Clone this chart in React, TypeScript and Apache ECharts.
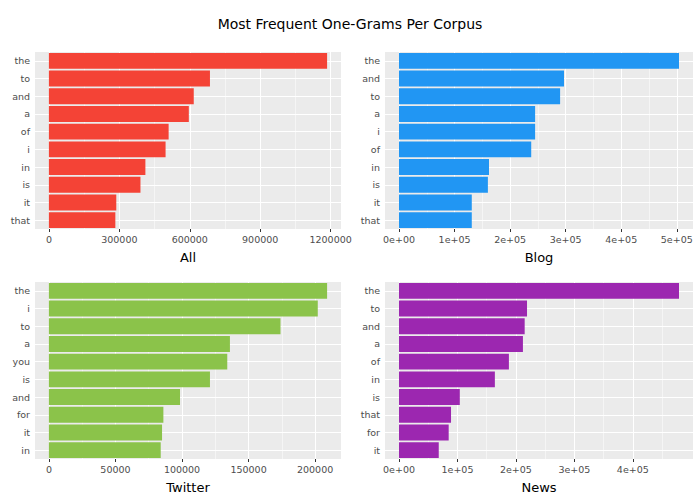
import React, { useEffect, useRef } from "react";
import * as echarts from "echarts";

const allWords = ["the", "to", "and", "a", "of", "i", "in", "is", "it", "that"];
const allValues = [1185000, 686000, 617000, 596000, 510000, 497000, 411000, 390000, 287000, 283000];
const allTicks = [0, 300000, 600000, 900000, 1200000];

const blogWords = ["the", "and", "to", "a", "i", "of", "in", "is", "it", "that"];
const blogValues = [504000, 297000, 290000, 245000, 245000, 238000, 162000, 160000, 131000, 131000];
const blogTicks = [0, 100000, 200000, 300000, 400000, 500000];

const twitterWords = ["the", "i", "to", "a", "you", "is", "and", "for", "it", "in"];
const twitterValues = [209000, 202000, 174000, 136000, 134000, 121000, 98500, 86000, 85000, 84000];
const twitterTicks = [0, 50000, 100000, 150000, 200000];

const newsWords = ["the", "to", "and", "a", "of", "in", "is", "that", "for", "it"];
const newsValues = [479000, 219000, 215000, 212000, 188000, 164000, 104000, 89000, 85000, 68000];
const newsTicks = [0, 100000, 200000, 300000, 400000];

const panels = [
  { name: "All", words: allWords, values: allValues, ticks: allTicks, color: "#F44336", sci: false, left: 35, top: 52 },
  { name: "Blog", words: blogWords, values: blogValues, ticks: blogTicks, color: "#2196F3", sci: true, left: 385, top: 52 },
  { name: "Twitter", words: twitterWords, values: twitterValues, ticks: twitterTicks, color: "#8BC34A", sci: false, left: 35, top: 282 },
  { name: "News", words: newsWords, values: newsValues, ticks: newsTicks, color: "#9C27B0", sci: true, left: 385, top: 282 },
];

const sciFmt = (v: number) => {
  if (v === 0) return "0e+00";
  const e = Math.floor(Math.log10(v));
  const m = Math.round(v / Math.pow(10, e));
  return `${m}e+${e < 10 ? "0" + e : e}`;
};

export default function App() {
  const ref = useRef<HTMLDivElement>(null);
  useEffect(() => {
    const chart = echarts.init(ref.current!, null, { renderer: "svg" });
    const grid: any[] = [], xAxis: any[] = [], yAxis: any[] = [], series: any[] = [];
    panels.forEach((p, i) => {
      const M = Math.max(...p.values);
      const w = i % 2 === 0 ? 306 : 308;
      grid.push({ left: p.left, top: p.top, width: w, height: 177, show: true, backgroundColor: "#EBEBEB", borderWidth: 0 });
      const step = p.ticks[1] - p.ticks[0];
      const minors: number[] = [];
      for (let k = 0; k < p.ticks.length; k++) {
        const mv = p.ticks[k] + step / 2;
        if (mv <= M * 1.05) minors.push(mv);
      }
      xAxis.push({
        gridIndex: i, type: "value", min: -M * 0.05, max: M * 1.05,
        name: p.name, nameLocation: "middle", nameGap: 22,
        nameTextStyle: { color: "#000", fontSize: 13, fontFamily: "DejaVu Sans" },
        axisLine: { show: false }, splitLine: { show: false },
        axisTick: { show: true, customValues: p.ticks, length: 3, lineStyle: { color: "#333" } },
        axisLabel: { customValues: p.ticks, color: "#4D4D4D", fontSize: 9.5, fontFamily: "DejaVu Sans", margin: 5,
          formatter: (v: number) => (p.sci ? sciFmt(v) : String(v)) },
      });
      yAxis.push({
        gridIndex: i, type: "category", data: p.words, inverse: true,
        axisLine: { show: false }, splitLine: { show: false },
        axisTick: { show: true, alignWithLabel: true, length: 3, lineStyle: { color: "#333" } },
        axisLabel: { color: "#4D4D4D", fontSize: 9.5, fontFamily: "DejaVu Sans", margin: 5 },
      });
      series.push({
        type: "bar", xAxisIndex: i, yAxisIndex: i, data: p.values, barCategoryGap: "10%",
        itemStyle: { color: p.color }, z: 3,
        markLine: {
          silent: true, symbol: "none", label: { show: false }, z: 1,
          data: [
            ...p.ticks.map((t) => ({ xAxis: t, lineStyle: { color: "#fff", width: 1.1, type: "solid" } })),
            ...minors.map((t) => ({ xAxis: t, lineStyle: { color: "#fff", width: 0.5, type: "solid" } })),
            ...p.words.map((wd) => ({ yAxis: wd, lineStyle: { color: "#fff", width: 1.1, type: "solid" } })),
          ],
        },
      });
    });
    chart.setOption({
      animation: false,
      backgroundColor: "#fff",
      title: { text: "Most Frequent One-Grams Per Corpus", left: "center", top: 12,
        textStyle: { fontSize: 14, fontWeight: "normal", color: "#000", fontFamily: "DejaVu Sans" } },
      grid, xAxis, yAxis, series,
    });
    return () => chart.dispose();
  }, []);
  return <div ref={ref} style={{ width: 700, height: 500, position: "fixed", left: 0, top: 0 }} />;
}
